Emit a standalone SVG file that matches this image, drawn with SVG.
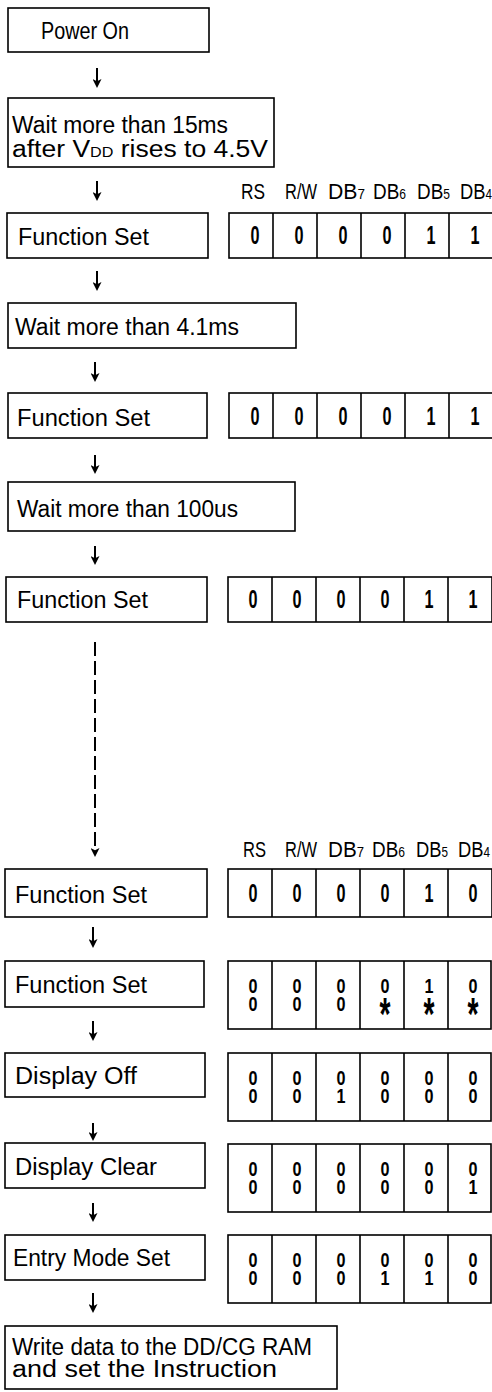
<svg xmlns="http://www.w3.org/2000/svg" width="492" height="1392" viewBox="0 0 492 1392">
<style>
text{font-family:'Liberation Sans',Arial,sans-serif;fill:#000}
.t{font-size:23px}
.h{font-size:22px}
.s{font-size:14px}
.d{font-size:25px;text-anchor:middle;font-weight:700}
.d2{font-size:20px;text-anchor:middle;font-weight:700}
.ast{font-size:46px}
.box{fill:#fff;stroke:#000;stroke-width:1.6}
.dv{stroke:#000;stroke-width:1.6}
.cn{stroke:#000;stroke-width:2;fill:none}
.dash{stroke-dasharray:14 5}
</style>
<defs>
<marker id="ah" viewBox="0 0 10 10" refX="5" refY="5" markerWidth="9" markerHeight="9" markerUnits="userSpaceOnUse" orient="auto">
<path d="M0,0 L10,5 L0,10 L2.5,5 z" fill="#000"/>
</marker>
</defs>
<rect width="492" height="1392" fill="#fff"/>

<g id="connectors">
<line class="cn" x1="97" y1="68" x2="97" y2="83.5" marker-end="url(#ah)"/>
<line class="cn" x1="97" y1="181" x2="97" y2="196.5" marker-end="url(#ah)"/>
<line class="cn" x1="97" y1="271" x2="97" y2="286.5" marker-end="url(#ah)"/>
<line class="cn" x1="95" y1="362" x2="95" y2="377.5" marker-end="url(#ah)"/>
<line class="cn" x1="95" y1="455" x2="95" y2="469.5" marker-end="url(#ah)"/>
<line class="cn" x1="95" y1="546" x2="95" y2="560.5" marker-end="url(#ah)"/>
<line class="cn dash" x1="95" y1="642" x2="95" y2="852.5" marker-end="url(#ah)"/>
<line class="cn" x1="93" y1="927" x2="93" y2="943.5" marker-end="url(#ah)"/>
<line class="cn" x1="93" y1="1021" x2="93" y2="1036.5" marker-end="url(#ah)"/>
<line class="cn" x1="93" y1="1123" x2="93" y2="1136.5" marker-end="url(#ah)"/>
<line class="cn" x1="93" y1="1203" x2="93" y2="1217.5" marker-end="url(#ah)"/>
<line class="cn" x1="93" y1="1293" x2="93" y2="1308.5" marker-end="url(#ah)"/>
</g>

<g id="power-on">
<rect class="box" x="8" y="8" width="201" height="44"/>
<text class="t" x="41" y="39" textLength="88" lengthAdjust="spacingAndGlyphs">Power On</text>
</g>

<g id="wait-15ms">
<rect class="box" x="8" y="98" width="266" height="69"/>
<text class="t" x="12" y="133" textLength="216" lengthAdjust="spacingAndGlyphs">Wait more than 15ms</text>
<text class="t" x="12" y="157" textLength="256" lengthAdjust="spacingAndGlyphs">after V<tspan class="s">DD</tspan> rises to 4.5V</text>
</g>

<g id="header-1">
<text class="h" x="241" y="199" textLength="24" lengthAdjust="spacingAndGlyphs">RS</text>
<text class="h" x="285" y="199" textLength="32" lengthAdjust="spacingAndGlyphs">R/W</text>
<text class="h" x="328" y="199" textLength="37" lengthAdjust="spacingAndGlyphs">DB<tspan class="s">7</tspan></text>
<text class="h" x="373" y="199" textLength="33" lengthAdjust="spacingAndGlyphs">DB<tspan class="s">6</tspan></text>
<text class="h" x="417" y="199" textLength="33" lengthAdjust="spacingAndGlyphs">DB<tspan class="s">5</tspan></text>
<text class="h" x="460" y="199" textLength="32" lengthAdjust="spacingAndGlyphs">DB<tspan class="s">4</tspan></text>
</g>

<g id="function-set-1">
<rect class="box" x="7" y="213" width="201" height="45"/>
<text class="t" x="18" y="245" textLength="131" lengthAdjust="spacingAndGlyphs">Function Set</text>
</g>
<g id="bits-1">
<rect class="box" x="229" y="213" width="264" height="45"/>
<path class="dv" d="M273,213V258M317,213V258M361,213V258M405,213V258M449,213V258"/>
<g class="d">
<text x="255" y="244" textLength="9" lengthAdjust="spacingAndGlyphs">0</text>
<text x="299" y="244" textLength="9" lengthAdjust="spacingAndGlyphs">0</text>
<text x="343" y="244" textLength="9" lengthAdjust="spacingAndGlyphs">0</text>
<text x="387" y="244" textLength="9" lengthAdjust="spacingAndGlyphs">0</text>
<text x="431" y="244" textLength="9" lengthAdjust="spacingAndGlyphs">1</text>
<text x="475" y="244" textLength="9" lengthAdjust="spacingAndGlyphs">1</text>
</g>
</g>

<g id="wait-4-1ms">
<rect class="box" x="8" y="303" width="288" height="45"/>
<text class="t" x="15" y="335" textLength="224" lengthAdjust="spacingAndGlyphs">Wait more than 4.1ms</text>
</g>

<g id="function-set-2">
<rect class="box" x="8" y="393" width="199" height="45"/>
<text class="t" x="17" y="426" textLength="133" lengthAdjust="spacingAndGlyphs">Function Set</text>
</g>
<g id="bits-2">
<rect class="box" x="229" y="393" width="264" height="45"/>
<path class="dv" d="M273,393V438M317,393V438M361,393V438M405,393V438M449,393V438"/>
<g class="d">
<text x="255" y="425" textLength="9" lengthAdjust="spacingAndGlyphs">0</text>
<text x="299" y="425" textLength="9" lengthAdjust="spacingAndGlyphs">0</text>
<text x="343" y="425" textLength="9" lengthAdjust="spacingAndGlyphs">0</text>
<text x="387" y="425" textLength="9" lengthAdjust="spacingAndGlyphs">0</text>
<text x="431" y="425" textLength="9" lengthAdjust="spacingAndGlyphs">1</text>
<text x="475" y="425" textLength="9" lengthAdjust="spacingAndGlyphs">1</text>
</g>
</g>

<g id="wait-100us">
<rect class="box" x="8" y="482" width="287" height="49"/>
<text class="t" x="17" y="517" textLength="221" lengthAdjust="spacingAndGlyphs">Wait more than 100us</text>
</g>

<g id="function-set-3">
<rect class="box" x="6" y="577" width="201" height="45"/>
<text class="t" x="17" y="608" textLength="131" lengthAdjust="spacingAndGlyphs">Function Set</text>
</g>
<g id="bits-3">
<rect class="box" x="228" y="577" width="264" height="45"/>
<path class="dv" d="M272,577V622M316,577V622M360,577V622M404,577V622M448,577V622"/>
<g class="d">
<text x="253" y="608" textLength="9" lengthAdjust="spacingAndGlyphs">0</text>
<text x="297" y="608" textLength="9" lengthAdjust="spacingAndGlyphs">0</text>
<text x="341" y="608" textLength="9" lengthAdjust="spacingAndGlyphs">0</text>
<text x="385" y="608" textLength="9" lengthAdjust="spacingAndGlyphs">0</text>
<text x="429" y="608" textLength="9" lengthAdjust="spacingAndGlyphs">1</text>
<text x="473" y="608" textLength="9" lengthAdjust="spacingAndGlyphs">1</text>
</g>
</g>

<g id="header-2">
<text class="h" x="243" y="857" textLength="23" lengthAdjust="spacingAndGlyphs">RS</text>
<text class="h" x="285" y="857" textLength="32" lengthAdjust="spacingAndGlyphs">R/W</text>
<text class="h" x="328" y="857" textLength="36" lengthAdjust="spacingAndGlyphs">DB<tspan class="s">7</tspan></text>
<text class="h" x="372" y="857" textLength="33" lengthAdjust="spacingAndGlyphs">DB<tspan class="s">6</tspan></text>
<text class="h" x="416" y="857" textLength="32" lengthAdjust="spacingAndGlyphs">DB<tspan class="s">5</tspan></text>
<text class="h" x="458" y="857" textLength="32" lengthAdjust="spacingAndGlyphs">DB<tspan class="s">4</tspan></text>
</g>

<g id="function-set-4">
<rect class="box" x="5" y="869" width="202" height="48"/>
<text class="t" x="15" y="903" textLength="132" lengthAdjust="spacingAndGlyphs">Function Set</text>
</g>
<g id="bits-4">
<rect class="box" x="228" y="869" width="264" height="48"/>
<path class="dv" d="M272,869V917M316,869V917M360,869V917M404,869V917M448,869V917"/>
<g class="d">
<text x="253" y="902" textLength="9" lengthAdjust="spacingAndGlyphs">0</text>
<text x="297" y="902" textLength="9" lengthAdjust="spacingAndGlyphs">0</text>
<text x="341" y="902" textLength="9" lengthAdjust="spacingAndGlyphs">0</text>
<text x="385" y="902" textLength="9" lengthAdjust="spacingAndGlyphs">0</text>
<text x="429" y="902" textLength="9" lengthAdjust="spacingAndGlyphs">1</text>
<text x="473" y="902" textLength="9" lengthAdjust="spacingAndGlyphs">0</text>
</g>
</g>

<g id="function-set-5">
<rect class="box" x="5" y="961" width="199" height="46"/>
<text class="t" x="15" y="993" textLength="132" lengthAdjust="spacingAndGlyphs">Function Set</text>
</g>
<g id="bits-5">
<rect class="box" x="228" y="961" width="263" height="68"/>
<path class="dv" d="M272,961V1029M316,961V1029M360,961V1029M404,961V1029M448,961V1029"/>
<g class="d2">
<text><tspan x="253" y="993" textLength="9" lengthAdjust="spacingAndGlyphs">0</tspan><tspan x="253" y="1010.5" textLength="9" lengthAdjust="spacingAndGlyphs">0</tspan></text>
<text><tspan x="297" y="993" textLength="9" lengthAdjust="spacingAndGlyphs">0</tspan><tspan x="297" y="1010.5" textLength="9" lengthAdjust="spacingAndGlyphs">0</tspan></text>
<text><tspan x="341" y="993" textLength="9" lengthAdjust="spacingAndGlyphs">0</tspan><tspan x="341" y="1010.5" textLength="9" lengthAdjust="spacingAndGlyphs">0</tspan></text>
<text><tspan x="385" y="993" textLength="9" lengthAdjust="spacingAndGlyphs">0</tspan><tspan class="ast" x="385" y="1030" textLength="11" lengthAdjust="spacingAndGlyphs">*</tspan></text>
<text><tspan x="429" y="993" textLength="9" lengthAdjust="spacingAndGlyphs">1</tspan><tspan class="ast" x="429" y="1030" textLength="11" lengthAdjust="spacingAndGlyphs">*</tspan></text>
<text><tspan x="473" y="993" textLength="9" lengthAdjust="spacingAndGlyphs">0</tspan><tspan class="ast" x="473" y="1030" textLength="11" lengthAdjust="spacingAndGlyphs">*</tspan></text>
</g>
</g>

<g id="display-off">
<rect class="box" x="5" y="1053" width="200" height="44"/>
<text class="t" x="15" y="1084" textLength="122" lengthAdjust="spacingAndGlyphs">Display Off</text>
</g>
<g id="bits-6">
<rect class="box" x="228" y="1053" width="263" height="68"/>
<path class="dv" d="M272,1053V1121M316,1053V1121M360,1053V1121M404,1053V1121M448,1053V1121"/>
<g class="d2">
<text><tspan x="253" y="1085" textLength="9" lengthAdjust="spacingAndGlyphs">0</tspan><tspan x="253" y="1102.5" textLength="9" lengthAdjust="spacingAndGlyphs">0</tspan></text>
<text><tspan x="297" y="1085" textLength="9" lengthAdjust="spacingAndGlyphs">0</tspan><tspan x="297" y="1102.5" textLength="9" lengthAdjust="spacingAndGlyphs">0</tspan></text>
<text><tspan x="341" y="1085" textLength="9" lengthAdjust="spacingAndGlyphs">0</tspan><tspan x="341" y="1102.5" textLength="9" lengthAdjust="spacingAndGlyphs">1</tspan></text>
<text><tspan x="385" y="1085" textLength="9" lengthAdjust="spacingAndGlyphs">0</tspan><tspan x="385" y="1102.5" textLength="9" lengthAdjust="spacingAndGlyphs">0</tspan></text>
<text><tspan x="429" y="1085" textLength="9" lengthAdjust="spacingAndGlyphs">0</tspan><tspan x="429" y="1102.5" textLength="9" lengthAdjust="spacingAndGlyphs">0</tspan></text>
<text><tspan x="473" y="1085" textLength="9" lengthAdjust="spacingAndGlyphs">0</tspan><tspan x="473" y="1102.5" textLength="9" lengthAdjust="spacingAndGlyphs">0</tspan></text>
</g>
</g>

<g id="display-clear">
<rect class="box" x="5" y="1143" width="200" height="45"/>
<text class="t" x="15" y="1175" textLength="142" lengthAdjust="spacingAndGlyphs">Display Clear</text>
</g>
<g id="bits-7">
<rect class="box" x="228" y="1144" width="263" height="68"/>
<path class="dv" d="M272,1144V1212M316,1144V1212M360,1144V1212M404,1144V1212M448,1144V1212"/>
<g class="d2">
<text><tspan x="253" y="1176" textLength="9" lengthAdjust="spacingAndGlyphs">0</tspan><tspan x="253" y="1193.5" textLength="9" lengthAdjust="spacingAndGlyphs">0</tspan></text>
<text><tspan x="297" y="1176" textLength="9" lengthAdjust="spacingAndGlyphs">0</tspan><tspan x="297" y="1193.5" textLength="9" lengthAdjust="spacingAndGlyphs">0</tspan></text>
<text><tspan x="341" y="1176" textLength="9" lengthAdjust="spacingAndGlyphs">0</tspan><tspan x="341" y="1193.5" textLength="9" lengthAdjust="spacingAndGlyphs">0</tspan></text>
<text><tspan x="385" y="1176" textLength="9" lengthAdjust="spacingAndGlyphs">0</tspan><tspan x="385" y="1193.5" textLength="9" lengthAdjust="spacingAndGlyphs">0</tspan></text>
<text><tspan x="429" y="1176" textLength="9" lengthAdjust="spacingAndGlyphs">0</tspan><tspan x="429" y="1193.5" textLength="9" lengthAdjust="spacingAndGlyphs">0</tspan></text>
<text><tspan x="473" y="1176" textLength="9" lengthAdjust="spacingAndGlyphs">0</tspan><tspan x="473" y="1193.5" textLength="9" lengthAdjust="spacingAndGlyphs">1</tspan></text>
</g>
</g>

<g id="entry-mode-set">
<rect class="box" x="5" y="1235" width="200" height="45"/>
<text class="t" x="13" y="1266" textLength="157" lengthAdjust="spacingAndGlyphs">Entry Mode Set</text>
</g>
<g id="bits-8">
<rect class="box" x="228" y="1235" width="263" height="68"/>
<path class="dv" d="M272,1235V1303M316,1235V1303M360,1235V1303M404,1235V1303M448,1235V1303"/>
<g class="d2">
<text><tspan x="253" y="1267" textLength="9" lengthAdjust="spacingAndGlyphs">0</tspan><tspan x="253" y="1284.5" textLength="9" lengthAdjust="spacingAndGlyphs">0</tspan></text>
<text><tspan x="297" y="1267" textLength="9" lengthAdjust="spacingAndGlyphs">0</tspan><tspan x="297" y="1284.5" textLength="9" lengthAdjust="spacingAndGlyphs">0</tspan></text>
<text><tspan x="341" y="1267" textLength="9" lengthAdjust="spacingAndGlyphs">0</tspan><tspan x="341" y="1284.5" textLength="9" lengthAdjust="spacingAndGlyphs">0</tspan></text>
<text><tspan x="385" y="1267" textLength="9" lengthAdjust="spacingAndGlyphs">0</tspan><tspan x="385" y="1284.5" textLength="9" lengthAdjust="spacingAndGlyphs">1</tspan></text>
<text><tspan x="429" y="1267" textLength="9" lengthAdjust="spacingAndGlyphs">0</tspan><tspan x="429" y="1284.5" textLength="9" lengthAdjust="spacingAndGlyphs">1</tspan></text>
<text><tspan x="473" y="1267" textLength="9" lengthAdjust="spacingAndGlyphs">0</tspan><tspan x="473" y="1284.5" textLength="9" lengthAdjust="spacingAndGlyphs">0</tspan></text>
</g>
</g>

<g id="write-data">
<rect class="box" x="5" y="1326" width="332" height="63"/>
<text class="t" x="12" y="1355" textLength="300" lengthAdjust="spacingAndGlyphs">Write data to the DD/CG RAM</text>
<text class="t" x="12" y="1377" textLength="265" lengthAdjust="spacingAndGlyphs">and set the Instruction</text>
</g>
</svg>
